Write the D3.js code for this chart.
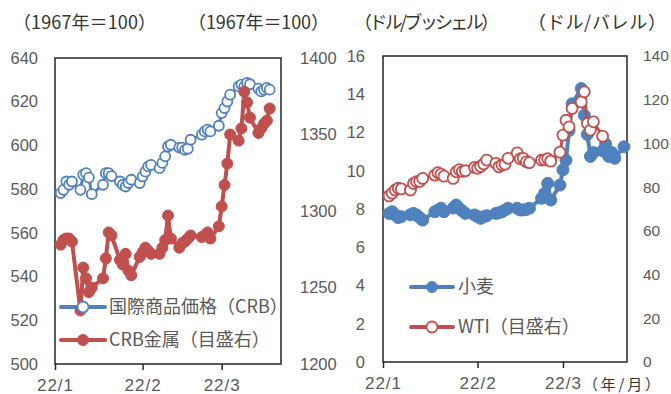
<!DOCTYPE html>
<html>
<head>
<meta charset="utf-8">
<script src="https://cdn.jsdelivr.net/npm/d3@7"></script>
<style>
  html, body { margin: 0; padding: 0; background: #fff; }
  svg { display: block; font-family: "Noto Sans CJK JP", "Noto Sans", sans-serif; }
</style>
</head>
<body>
<svg id="chart" width="671" height="394"></svg>
<script>
// Trading days, 2022-01-03 .. 2022-03-21
const tradingDays = [
  "2022-01-03","2022-01-04","2022-01-05","2022-01-06","2022-01-07",
  "2022-01-10","2022-01-11","2022-01-12","2022-01-13","2022-01-14",
  "2022-01-18","2022-01-19","2022-01-20","2022-01-21",
  "2022-01-24","2022-01-25","2022-01-26","2022-01-27","2022-01-28",
  "2022-01-31","2022-02-01","2022-02-02","2022-02-03","2022-02-04",
  "2022-02-07","2022-02-08","2022-02-09","2022-02-10","2022-02-11",
  "2022-02-14","2022-02-15","2022-02-16","2022-02-17","2022-02-18",
  "2022-02-22","2022-02-23","2022-02-24","2022-02-25",
  "2022-02-28","2022-03-01","2022-03-02","2022-03-03","2022-03-04",
  "2022-03-07","2022-03-08","2022-03-09","2022-03-10","2022-03-11",
  "2022-03-14","2022-03-15","2022-03-16","2022-03-17","2022-03-18",
  "2022-03-21"
];

// CRB commodity index (1967 = 100), through 3/18
const crbIndex = [
  578.2, 579.7, 583.5, 582.0, 583.5,
  579.7, 586.6, 587.3, 585.3, 577.7,
  582.0, 587.3, 587.3, 586.0,
  583.5, 582.0, 581.2, 582.8, 584.3,
  582.8, 585.8, 588.0, 590.4, 591.1,
  589.6, 592.0, 595.0, 599.5, 600.3,
  599.0, 599.0, 598.0, 598.5, 602.6,
  604.9, 606.4, 607.2, 606.4,
  609.0, 614.8, 617.1, 620.1, 623.2,
  627.0, 627.8, 627.0, 628.6, 628.0,
  626.0, 624.7, 625.5, 626.3, 625.5
];

// CRB metals sub-index (right scale), through 3/18
const crbMetals = [
  1278, 1281, 1282, 1282, 1280,
  1235, 1263, 1256, 1247, 1250,
  1256, 1269, 1286, 1284,
  1268, 1265, 1272, 1261, 1258,
  1270, 1273, 1276, 1274, 1272,
  1272, 1276, 1281, 1297, 1282,
  1276, 1279, 1280, 1282, 1284,
  1283, 1284, 1286, 1282,
  1290, 1303, 1317, 1331, 1350,
  1346, 1354, 1378, 1371, 1361,
  1351, 1354, 1357, 1359, 1367
];

// Wheat (USD/bushel), through 3/21
const wheat = [
  7.77, 7.86, 7.69, 7.55, 7.60,
  7.70, 7.77, 7.69, 7.55, 7.42,
  7.86, 7.95, 8.04, 7.86,
  8.05, 8.21, 8.04, 7.90, 7.77,
  7.69, 7.60, 7.51, 7.60, 7.65,
  7.77, 7.80, 7.86, 7.95, 8.04,
  8.04, 7.95, 7.95, 7.98, 8.04,
  8.56, 8.82, 9.34, 8.47,
  9.25, 10.05, 10.55, 12.10, 13.50,
  14.30, 12.90, 11.90, 10.75, 10.95,
  11.05, 11.40, 10.75, 10.95, 10.65,
  11.25
];

// WTI crude (USD/barrel, right scale), through 3/14
const wti = [
  76.0, 77.2, 78.7, 79.5, 79.2,
  78.7, 81.7, 82.5, 82.6, 84.0,
  85.5, 86.6, 86.0, 85.0,
  84.0, 87.0, 88.0, 87.2, 87.5,
  89.0, 88.6, 89.5, 90.6, 92.4,
  90.9, 89.3, 90.1, 90.5, 93.2,
  95.7, 93.0, 93.2, 91.6, 91.2,
  92.4, 92.5, 93.0, 91.9,
  96.0, 103.8, 110.6, 107.6, 116.0,
  119.0, 123.6, 109.1, 106.1, 109.9,
  103.3
];

const xTicks = ["2022-01-01", "2022-02-01", "2022-03-01"];
const leftTicks = [500, 520, 540, 560, 580, 600, 620, 640];
const metalTicks = [1200, 1250, 1300, 1350, 1400];
const wheatTicks = [0, 2, 4, 6, 8, 10, 12, 14, 16];
const wtiTicks = [0, 20, 40, 60, 80, 100, 120, 140];

const BLUE = "#4F81BD", RED = "#C0504D";
const parse = d3.timeParse("%Y-%m-%d");
const days = tradingDays.map(parse);
const xDomain = [parse("2022-01-01"), parse("2022-03-22")];
const tickDates = xTicks.map(parse);
const fmt = d3.timeFormat("%y/%-m");
const num = d3.format("d");

const svg = d3.select("#chart");

function panel(opt) {
  const g = svg.append("g");
  const x = d3.scaleTime().domain(xDomain).range([opt.x0, opt.x1]);
  const yL = d3.scaleLinear().domain(opt.leftDomain).range([opt.y1, opt.y0]);
  const yR = d3.scaleLinear().domain(opt.rightDomain).range([opt.y1, opt.y0]);

  // left axis labels
  const al = g.append("g").attr("transform", `translate(${opt.x0},0)`)
    .call(d3.axisLeft(yL).tickValues(opt.leftTicks).tickFormat(num).tickSize(0).tickPadding(opt.padL));
  // right axis labels
  const ar = g.append("g").attr("transform", `translate(${opt.x1},0)`)
    .call(d3.axisRight(yR).tickValues(opt.rightTicks).tickFormat(num).tickSize(0).tickPadding(opt.padR));
  // bottom axis
  const ab = g.append("g").attr("transform", `translate(0,${opt.y1})`)
    .call(d3.axisBottom(x).tickValues(tickDates).tickFormat(fmt).tickSize(6).tickSizeOuter(0).tickPadding(9));
  [al, ar, ab].forEach(a => {
    a.select(".domain").remove();
    a.selectAll("text").attr("fill", "#595959").style("font-size", "16.5px");
  });
  if (opt.rightFont) ar.selectAll("text").style("font-size", opt.rightFont);
  ab.selectAll("line").attr("stroke", "#262626").attr("stroke-width", 1.5);
  ab.selectAll("text").style("font-size", "17px").style("letter-spacing", "1px");

  // frame
  g.append("rect").attr("x", opt.x0).attr("y", opt.y0)
    .attr("width", opt.x1 - opt.x0).attr("height", opt.y1 - opt.y0)
    .attr("fill", "none").attr("stroke", "#262626").attr("stroke-width", 1.5);

  function series(vals, y, color, hollow, r) {
    const pts = vals.map((v, i) => [days[i], v]);
    g.append("path").datum(pts)
      .attr("fill", "none").attr("stroke", color).attr("stroke-width", hollow ? 3 : 4)
      .attr("stroke-linejoin", "round")
      .attr("d", d3.line().x(d => x(d[0])).y(d => y(d[1])));
    g.append("g").selectAll("circle").data(pts).join("circle")
      .attr("cx", d => x(d[0])).attr("cy", d => y(d[1])).attr("r", r)
      .attr("fill", hollow ? "#fff" : color)
      .attr("stroke", color).attr("stroke-width", hollow ? 1.8 : 1);
  }
  opt.series.forEach(s => series(s.values, s.axis === "left" ? yL : yR, s.color, s.hollow, s.r));

  // legend
  opt.legend.forEach(it => {
    const lg = g.append("g");
    lg.append("line").attr("x1", it.lx0).attr("x2", it.lx1).attr("y1", it.y).attr("y2", it.y)
      .attr("stroke", it.color).attr("stroke-width", 4).attr("stroke-linecap", "round");
    lg.append("circle").attr("cx", (it.lx0 + it.lx1) / 2).attr("cy", it.y).attr("r", 5.5)
      .attr("fill", it.hollow ? "#fff" : it.color).attr("stroke", it.color).attr("stroke-width", it.hollow ? 1.8 : 1);
    lg.append("text").attr("x", it.tx).attr("y", it.y).attr("dy", "0.36em")
      .attr("fill", "#595959").style("font-size", "18px").text(it.label);
  });
}

panel({
  x0: 55, x1: 281, y0: 58, y1: 364,
  leftDomain: [500, 640], rightDomain: [1200, 1400],
  leftTicks, rightTicks: metalTicks, padL: 17, padR: 19,
  series: [
    { values: crbIndex, axis: "left", color: BLUE, hollow: true, r: 5 },
    { values: crbMetals, axis: "right", color: RED, hollow: false, r: 5.5 }
  ],
  legend: [
    { y: 307, lx0: 61, lx1: 105, tx: 109, color: BLUE, hollow: true, label: "国際商品価格（CRB）" },
    { y: 340, lx0: 61, lx1: 105, tx: 109, color: RED, hollow: false, label: "CRB金属（目盛右）" }
  ]
});

panel({
  x0: 383, x1: 627, y0: 56, y1: 362,
  leftDomain: [0, 16], rightDomain: [0, 140],
  leftTicks: wheatTicks, rightTicks: wtiTicks, padL: 18, padR: 16, rightFont: "15.5px",
  series: [
    { values: wheat, axis: "left", color: BLUE, hollow: false, r: 6 },
    { values: wti, axis: "right", color: RED, hollow: true, r: 5.5 }
  ],
  legend: [
    { y: 287, lx0: 411, lx1: 453, tx: 458, color: BLUE, hollow: false, label: "小麦" },
    { y: 327, lx0: 411, lx1: 453, tx: 458, color: RED, hollow: true, label: "WTI（目盛右）" }
  ]
});

// unit captions, each fitted to its own span
const captions = [
  { x: 13, y: 29, w: 143, size: 18, t: "（1967年＝100）" },
  { x: 188, y: 29, w: 141, size: 18, t: "（1967年＝100）" },
  { x: 354, y: 29, w: 145, size: 18, t: "（ドル/ブッシェル）" },
  { x: 528, y: 29, w: 138, size: 18, t: "（ドル/バレル）" },
  { x: 583, y: 389.5, w: 77, size: 15, t: "（年/月）" }
];
svg.append("g").selectAll("text").data(captions).join("text")
  .attr("x", d => d.x).attr("y", d => d.y)
  .attr("textLength", d => d.w).attr("lengthAdjust", "spacing")
  .attr("fill", "#333").style("font-size", d => d.size + "px").text(d => d.t);
</script>
</body>
</html>
